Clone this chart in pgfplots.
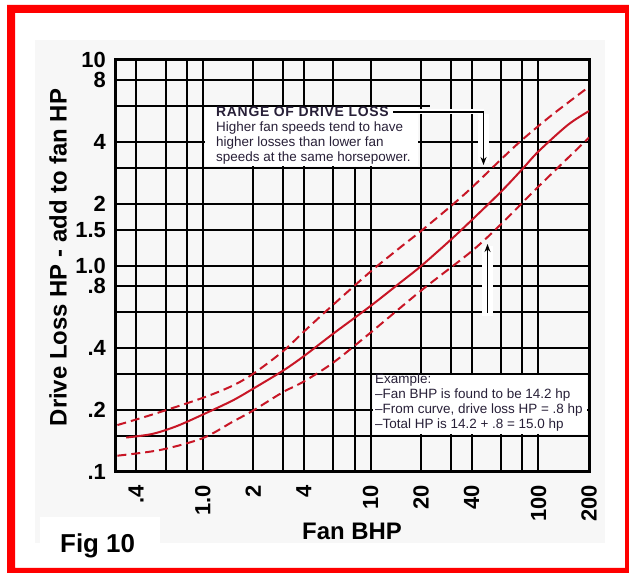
\documentclass[border=0pt]{standalone}
\usepackage{fontspec}
\setmainfont{Liberation Sans}
\usepackage{pgfplots}
\pgfplotsset{compat=1.18}
\usetikzlibrary{arrows.meta}

\definecolor{curvered}{RGB}{200,22,38}
\definecolor{anntext}{RGB}{40,32,56}
\definecolor{panel}{RGB}{247,247,247}

\begin{document}
\begin{tikzpicture}[x=1bp,y=1bp]
\useasboundingbox (0,0) rectangle (629,573);
\fill[white] (0,0) rectangle (629,573);
% red frame, thicker on the left and top
\fill[red, even odd rule] (7,0) rectangle (629,568) (15,5) rectangle (625,560);
\fill[panel] (35,30) rectangle (605,533);
\fill[white] (40,30) rectangle (160,56);

% grid lines that only run part of the way (pixel coords, y down)
\begin{scope}[shift={(0,573)}, y=-1bp, line width=2bp]
  \draw (115,105.7) -- (430,105.7);
  \draw (354.6,167) -- (354.6,472);
\end{scope}

\begin{axis}[
  at={(115bp,101bp)}, anchor=south west,
  scale only axis, width=474bp, height=412bp,
  xmode=log, ymode=log,
  xmin=0.3, xmax=200, ymin=0.1, ymax=10,
  xtick={0.4,0.6,0.8,1,2,3,4,6,10,20,30,40,60,80,100,200},
  xticklabels={.4,,,1.0,2,,4,,10,20,,40,,,100,200},
  ytick={0.1,0.15,0.2,0.3,0.4,0.6,0.8,1,1.5,2,3,4,8,10},
  yticklabels={.1,,.2,,.4,,.8,1.0,1.5,2,,4,8,10},
  grid=major,
  major grid style={black, line width=2bp},
  major tick length=0pt, minor tick length=0pt,
  axis line style={line width=3bp},
  tick label style={font=\fontsize{22}{22}\selectfont\bfseries},
  xticklabel style={rotate=90, anchor=east, inner sep=0pt},
  xticklabel shift=13bp,
  yticklabel style={anchor=east, inner sep=0pt},
  yticklabel shift=9bp,
  xlabel={Fan BHP},
  ylabel={Drive Loss HP - add to fan HP},
  every axis x label/.style={at={(axis description cs:0.5,-0.165)}, anchor=base,
    font=\fontsize{24}{24}\selectfont\bfseries},
  every axis y label/.style={at={(axis description cs:-0.1203,0.5206)}, rotate=90,
    anchor=center, font=\fontsize{24}{24}\selectfont\bfseries},
]
% upper limit of range
\addplot[curvered, line width=2bp, dash pattern=on 9bp off 5bp, smooth] coordinates {
  (0.31,0.169) (0.5,0.19) (1,0.229) (1.5,0.262) (2,0.30) (3,0.385) (4,0.48)
  (6,0.65) (10,0.94) (15,1.23) (20,1.48) (30,1.95) (40,2.4) (60,3.3)
  (80,4.1) (120,5.4) (195,7.3)
};
% typical drive loss
\addplot[curvered, line width=2bp, smooth] coordinates {
  (0.35,0.147) (0.5,0.153) (0.7,0.167) (1,0.19) (1.5,0.222) (2,0.254) (3,0.31)
  (4,0.365) (6,0.47) (10,0.64) (15,0.83) (20,1.0) (30,1.34) (40,1.67)
  (60,2.3) (80,2.95) (100,3.6) (150,4.85) (200,5.65)
};
% lower limit of range
\addplot[curvered, line width=2bp, dash pattern=on 9bp off 5bp, smooth] coordinates {
  (0.31,0.12) (0.56,0.128) (1,0.146) (1.5,0.175) (2,0.199) (3,0.244) (4,0.275)
  (6,0.34) (10,0.475) (20,0.76) (40,1.18) (60,1.6) (100,2.43) (200,4.2)
};
\end{axis}

% annotations (pixel coords, y down)
\begin{scope}[shift={(0,573)}, y=-1bp]
  \fill[white] (205,107.5) rectangle (418,166.5);
  \fill[white] (373,375.5) rectangle (587,434.5);
  \fill[white] (478,114) rectangle (489,163);
  \fill[white] (482,246) rectangle (493,316);

  \begin{scope}[every node/.style={anchor=base west, inner sep=0pt, text=anntext,
      font=\fontsize{13.5}{15}\selectfont}]
    \node[font=\fontsize{14}{15}\selectfont\bfseries\addfontfeature{LetterSpace=5}]
      at (216,117) {RANGE OF DRIVE LOSS};
    \node at (216,132) {Higher fan speeds tend to have};
    \node at (216,147) {higher losses than lower fan};
    \node at (216,162) {speeds at the same horsepower.};

    \node at (375,384) {Example:};
    \node at (375,399) {–Fan BHP is found to be 14.2 hp};
    \node at (375,414) {–From curve, drive loss HP = .8 hp};
    \node at (375,429) {–Total HP is 14.2 + .8 = 15.0 hp};
  \end{scope}

  \draw[white, line width=5bp] (393,112) -- (483.5,112);
  \draw[line width=1.3bp, -{Stealth[length=8bp,width=6bp]}]
    (393,112) -- (483.5,112) -- (483.5,165);
  \draw[line width=1.3bp, -{Stealth[length=8bp,width=6bp]}]
    (487.5,313) -- (487.5,244);

  \node[anchor=base west, inner sep=0pt, font=\fontsize{26}{26}\selectfont\bfseries]
    at (60,553) {Fig 10};
\end{scope}
\end{tikzpicture}
\end{document}
